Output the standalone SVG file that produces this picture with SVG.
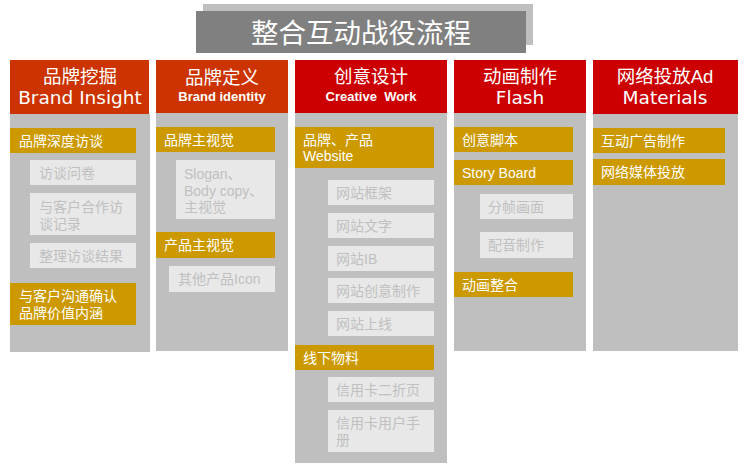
<svg xmlns="http://www.w3.org/2000/svg" width="749" height="468" viewBox="0 0 749 468">
<style>
text{font-family:"Liberation Sans","Noto Sans CJK SC",sans-serif;}
.col{fill:#BFBFBF;}
.hd1{fill:#CC3300;}
.hd2{fill:#CC0000;}
.gold{fill:#CC9900;}
.lite{fill:#E8E8E8;}
.ht{fill:#FFFFFF;font-size:18.5px;text-anchor:middle;}
.he{fill:#FFFFFF;font-size:18.5px;text-anchor:middle;font-family:"DejaVu Sans","Liberation Sans",sans-serif;}
.hb{fill:#FFFFFF;font-size:13px;font-weight:bold;text-anchor:middle;white-space:pre;}
.gt{fill:#FFFFFF;font-size:14px;}
.lt{fill:#C0C0C0;font-size:14px;}
</style>
<rect width="749" height="468" fill="#FFFFFF"/>
<g id="title">
<rect x="203" y="4" width="330" height="41" fill="#BFBFBF"/>
<rect x="196" y="11" width="330" height="42" fill="#808080"/>
<text x="361" y="43" fill="#FFFFFF" font-size="27.5" text-anchor="middle">整合互动战役流程</text>
</g>
<!-- Column 1 -->
<g id="col1">
<rect class="col" x="10" y="114" width="140" height="238"/>
<rect class="hd1" x="10" y="60" width="139" height="54"/>
<text class="ht" x="80" y="83">品牌挖掘</text>
<text class="he" x="80" y="104" font-size="17.5">Brand Insight</text>
</g>
<g id="c1-item1"><rect class="gold" x="10" y="128" width="126" height="25"/><text class="gt" x="19" y="146">品牌深度访谈</text></g>
<g id="c1-sub1"><rect class="lite" x="30" y="160" width="106" height="25"/><text class="lt" x="39" y="178">访谈问卷</text></g>
<g id="c1-sub2"><rect class="lite" x="30" y="193" width="106" height="42"/><text class="lt" x="39" y="212">与客户合作访</text><text class="lt" x="39" y="229">谈记录</text></g>
<g id="c1-sub3"><rect class="lite" x="30" y="243" width="106" height="25"/><text class="lt" x="39" y="261">整理访谈结果</text></g>
<g id="c1-item2"><rect class="gold" x="10" y="283" width="126" height="42"/><text class="gt" x="19" y="301">与客户沟通确认</text><text class="gt" x="19" y="318">品牌价值内涵</text></g>
<!-- Column 2 -->
<g id="col2">
<rect class="col" x="156" y="113" width="132" height="238"/>
<rect class="hd1" x="156" y="60" width="132" height="53"/>
<text class="ht" x="222" y="84">品牌定义</text>
<text class="hb" x="222" y="101">Brand identity</text>
</g>
<g id="c2-item1"><rect class="gold" x="156" y="127" width="119" height="25"/><text class="gt" x="164" y="145">品牌主视觉</text></g>
<g id="c2-sub1"><rect class="lite" x="176" y="160" width="99" height="59"/><text class="lt" x="184" y="179">Slogan、</text><text class="lt" x="184" y="196">Body copy、</text><text class="lt" x="184" y="212">主视觉</text></g>
<g id="c2-item2"><rect class="gold" x="156" y="232" width="119" height="26"/><text class="gt" x="164" y="250">产品主视觉</text></g>
<g id="c2-sub2"><rect class="lite" x="169" y="266" width="106" height="26"/><text class="lt" x="178" y="284">其他产品Icon</text></g>
<!-- Column 3 -->
<g id="col3">
<rect class="col" x="295" y="113" width="152" height="350"/>
<rect class="hd2" x="295" y="60" width="152" height="53"/>
<text class="ht" x="371" y="83">创意设计</text>
<text class="hb" x="371" y="101" xml:space="preserve">Creative  Work</text>
</g>
<g id="c3-item1"><rect class="gold" x="295" y="127" width="139" height="41"/><text class="gt" x="303" y="145">品牌、产品</text><text class="gt" x="303" y="161">Website</text></g>
<g id="c3-sub1"><rect class="lite" x="328" y="180" width="106" height="25"/><text class="lt" x="336" y="198">网站框架</text></g>
<g id="c3-sub2"><rect class="lite" x="328" y="213" width="106" height="25"/><text class="lt" x="336" y="231">网站文字</text></g>
<g id="c3-sub3"><rect class="lite" x="328" y="246" width="106" height="25"/><text class="lt" x="336" y="264">网站IB</text></g>
<g id="c3-sub4"><rect class="lite" x="328" y="278" width="106" height="25"/><text class="lt" x="336" y="296">网站创意制作</text></g>
<g id="c3-sub5"><rect class="lite" x="328" y="311" width="106" height="25"/><text class="lt" x="336" y="329">网站上线</text></g>
<g id="c3-item2"><rect class="gold" x="295" y="345" width="139" height="25"/><text class="gt" x="303" y="363">线下物料</text></g>
<g id="c3-sub6"><rect class="lite" x="328" y="377" width="106" height="25"/><text class="lt" x="336" y="395">信用卡二折页</text></g>
<g id="c3-sub7"><rect class="lite" x="328" y="410" width="106" height="42"/><text class="lt" x="336" y="428">信用卡用户手</text><text class="lt" x="336" y="445">册</text></g>
<!-- Column 4 -->
<g id="col4">
<rect class="col" x="454" y="113" width="132" height="238"/>
<rect class="hd2" x="454" y="60" width="132" height="53"/>
<text class="ht" x="520" y="83">动画制作</text>
<text class="he" x="520" y="104">Flash</text>
</g>
<g id="c4-item1"><rect class="gold" x="454" y="127" width="119" height="25"/><text class="gt" x="462" y="145">创意脚本</text></g>
<g id="c4-item2"><rect class="gold" x="454" y="160" width="119" height="25"/><text class="gt" x="462" y="178">Story Board</text></g>
<g id="c4-sub1"><rect class="lite" x="480" y="194" width="93" height="25"/><text class="lt" x="488" y="212">分帧画面</text></g>
<g id="c4-sub2"><rect class="lite" x="480" y="232" width="93" height="26"/><text class="lt" x="488" y="250">配音制作</text></g>
<g id="c4-item3"><rect class="gold" x="454" y="272" width="119" height="25"/><text class="gt" x="462" y="290">动画整合</text></g>
<!-- Column 5 -->
<g id="col5">
<rect class="col" x="593" y="114" width="145" height="237"/>
<rect class="hd2" x="593" y="60" width="145" height="54"/>
<text class="ht" x="665" y="83">网络投放Ad</text>
<text class="he" x="665" y="104">Materials</text>
</g>
<g id="c5-item1"><rect class="gold" x="593" y="128" width="132" height="25"/><text class="gt" x="601" y="146">互动广告制作</text></g>
<g id="c5-item2"><rect class="gold" x="593" y="159" width="132" height="26"/><text class="gt" x="601" y="177">网络媒体投放</text></g>
</svg>
